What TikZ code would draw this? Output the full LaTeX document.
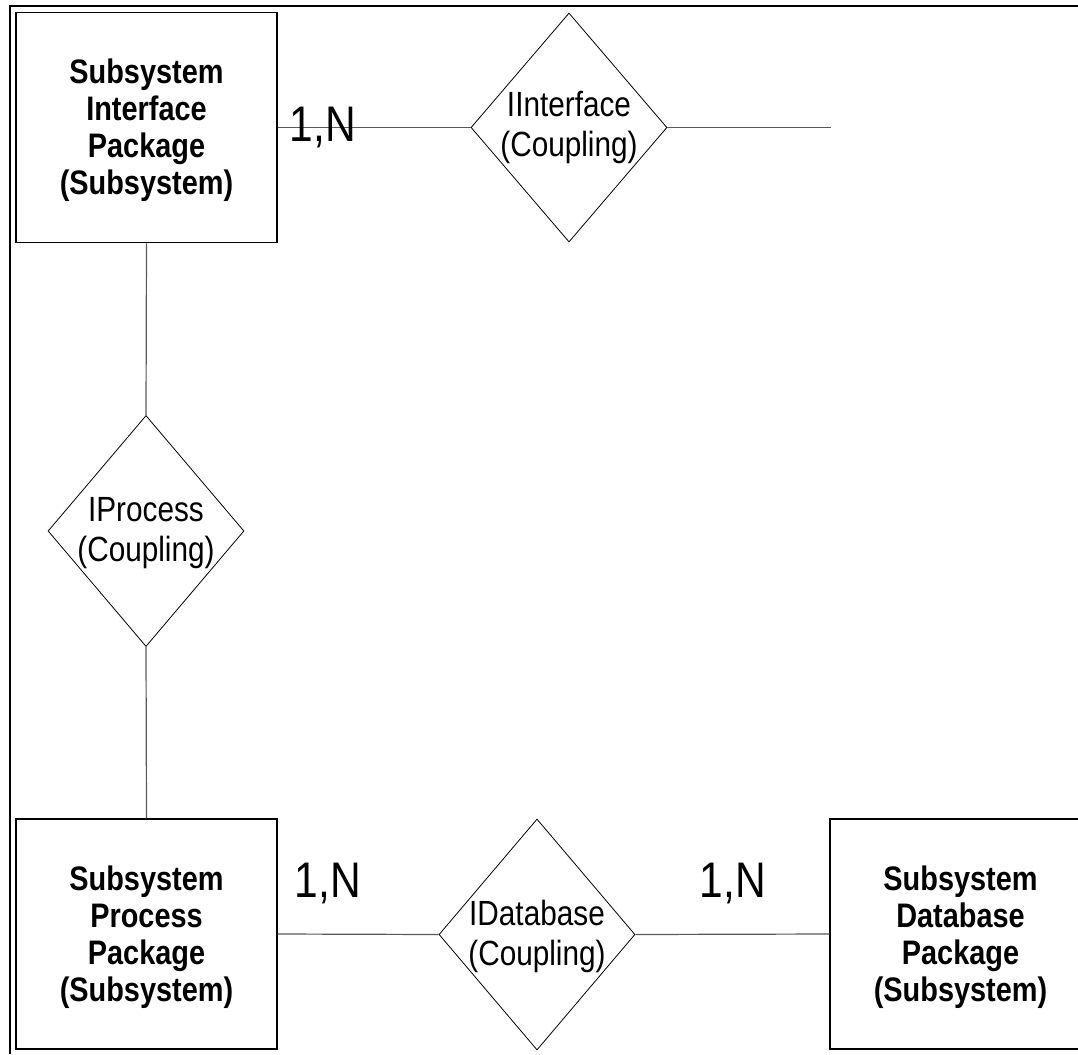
\documentclass[tikz,border=0pt]{standalone}
\usepackage{fontspec}
\setmainfont{Liberation Sans}
\newfontfamily\narrowsans[FakeStretch=0.85]{Liberation Sans}
\usetikzlibrary{shapes.geometric}

\tikzset{
  entity/.style={draw=black, line width=1.5pt, rectangle, minimum width=261pt,
    minimum height=230pt, inner sep=0pt},
  entitytext/.style={align=center, inner sep=0pt,
    font=\narrowsans\bfseries\fontsize{34}{37}\selectfont},
  relation/.style={draw=black, line width=0.8pt, diamond, minimum width=196pt,
    minimum height=230pt, inner sep=0pt},
  reltext/.style={align=center, inner sep=0pt,
    font=\narrowsans\fontsize{35}{40}\selectfont},
  card/.style={inner sep=0pt, font=\narrowsans\fontsize{50}{50}\selectfont},
  conn/.style={draw=black!65, line width=1.2pt},
  frameline/.style={draw=black, line width=2pt}
}

\begin{document}
\begin{tikzpicture}[x=1pt, y=-1pt]
  \useasboundingbox (0,0) rectangle (1078,1054);
  \clip (0,0) rectangle (1078,1054);

  % page frame
  \draw[frameline] (10,1054) -- (10,6) -- (1078,6);

  % entities
  \node[entity] (sip) at (146.5,127.5) {};
  \node[entitytext] (sipt) at ([yshift=-3pt]sip.center) {Subsystem\\Interface\\Package\\(Subsystem)};
  \node[entity] (spp) at (146.5,934) {};
  \node[entitytext] (sppt) at ([yshift=-3pt]spp.center) {Subsystem\\Process\\Package\\(Subsystem)};
  \node[entity] (sdp) at (960.5,934) {};
  \node[entitytext] (sdpt) at ([yshift=-3pt]sdp.center) {Subsystem\\Database\\Package\\(Subsystem)};

  % relationships
  \node[relation, minimum height=229pt] (rif) at (569,127.5) {};
  \node[reltext] (rift) at (rif.center) {IInterface\\(Coupling)};
  \node[relation, minimum height=231pt] (rpr) at (146,531) {};
  \node[reltext] (rprt) at ([yshift=-2pt]rpr.center) {IProcess\\(Coupling)};
  \node[relation, minimum height=231pt] (rdb) at (537,934.5) {};
  \node[reltext] (rdbt) at ([yshift=-2pt]rdb.center) {IDatabase\\(Coupling)};

  \coordinate (ifend) at (831,127.5);

  % connectors
  \draw[conn] (sip.east) -- (rif.west);
  \draw[conn] (rif.east) -- (ifend);
  \draw[conn] (sip.south) -- (rpr.north);
  \draw[conn] (rpr.south) -- (spp.north);
  \draw[conn] (spp.east) -- (rdb.west);
  \draw[conn] (rdb.east) -- (sdp.west);

  % cardinalities
  \node[card] (c1) at (323,127) {1,N};
  \node[card] (c2) at (328,883) {1,N};
  \node[card] (c3) at (733,883) {1,N};
\end{tikzpicture}
\end{document}
